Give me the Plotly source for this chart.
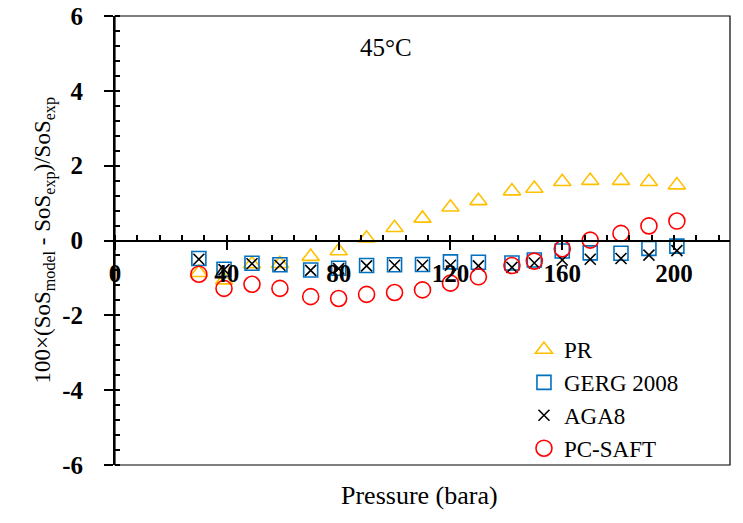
import plotly.graph_objects as go

pressure = [30, 39, 49, 59, 70, 80, 90, 100, 110, 120, 130, 142, 150, 160, 170, 181, 191, 201]
pr = [-0.86, -1.06, -0.63, -0.62, -0.43, -0.28, 0.06, 0.34, 0.59, 0.89, 1.06, 1.32, 1.39, 1.57, 1.60, 1.60, 1.57, 1.48]
gerg = [-0.48, -0.77, -0.61, -0.65, -0.79, -0.74, -0.67, -0.65, -0.64, -0.57, -0.58, -0.60, -0.52, -0.28, -0.33, -0.34, -0.21, -0.15]
aga8 = [-0.50, -0.78, -0.62, -0.66, -0.80, -0.75, -0.68, -0.66, -0.66, -0.66, -0.68, -0.72, -0.60, -0.52, -0.50, -0.48, -0.39, -0.27]
pcsaft = [-0.90, -1.28, -1.17, -1.28, -1.50, -1.55, -1.44, -1.39, -1.32, -1.14, -0.97, -0.67, -0.55, -0.22, 0.01, 0.19, 0.39, 0.52]

x_ticks = [0, 40, 80, 120, 160, 200]
y_ticks = [-6, -4, -2, 0, 2, 4, 6]
y_ticklabels = ["-6", "-4", "-2", "0", "2", "4", "6"]

FONT = "Liberation Serif, Times New Roman, serif"

fig = go.Figure()
fig.add_trace(go.Scatter(x=pressure, y=pr, mode="markers", name="PR",
                         marker=dict(symbol="triangle-up-open", size=15, color="#FFC000",
                                     line=dict(width=1.6, color="#FFC000"))))
fig.add_trace(go.Scatter(x=pressure, y=gerg, mode="markers", name="GERG 2008",
                         marker=dict(symbol="square-open", size=14, color="#0070C0",
                                     line=dict(width=1.6, color="#0070C0"))))
fig.add_trace(go.Scatter(x=pressure, y=aga8, mode="markers", name="AGA8",
                         marker=dict(symbol="x-thin-open", size=11, color="black",
                                     line=dict(width=1.6, color="black"))))
fig.add_trace(go.Scatter(x=pressure, y=pcsaft, mode="markers", name="PC-SAFT",
                         marker=dict(symbol="circle-open", size=16, color="#FF0000",
                                     line=dict(width=1.6, color="#FF0000"))))

fig.update_layout(
    width=743, height=523,
    margin=dict(l=115, r=13, t=16, b=58, autoexpand=False),
    paper_bgcolor="white", plot_bgcolor="white",
    font=dict(family=FONT, color="black"),
    showlegend=True,
    legend=dict(x=0.665, y=0.305, xanchor="left", yanchor="top",
                font=dict(family=FONT, size=23, color="black"),
                bgcolor="rgba(0,0,0,0)", itemwidth=30, tracegroupgap=0),
    xaxis=dict(range=[0, 220], tickvals=x_ticks, anchor="free", position=0.5,
               automargin=False,
               showline=True, linecolor="black", linewidth=2,
               ticks="outside", ticklen=8, tickwidth=1.5, tickcolor="black",
               ticklabelstandoff=2, ticklabeloverflow="allow",
               tickfont=dict(family=FONT, size=25, color="black", weight="bold"),
               showgrid=False, zeroline=False,
               minor=dict(dtick=8, tick0=0, ticks="inside", ticklen=5, tickwidth=1.5,
                          tickcolor="black", showgrid=False)),
    yaxis=dict(range=[-6, 6], tickvals=y_ticks, ticktext=y_ticklabels,
               automargin=False,
               showline=True, linecolor="black", linewidth=2,
               ticks="outside", ticklen=9, tickwidth=1.5, tickcolor="black",
               ticklabelstandoff=16, ticklabeloverflow="allow",
               tickfont=dict(family=FONT, size=25, color="black", weight="bold"),
               showgrid=False, zeroline=False,
               minor=dict(dtick=0.4, tick0=0, ticks="inside", ticklen=5, tickwidth=1.5,
                          tickcolor="black", showgrid=False)),
    shapes=[dict(type="rect", xref="paper", yref="paper", x0=0, x1=1, y0=0, y1=1,
                 line=dict(color="black", width=1.2), layer="below")],
    annotations=[
        dict(text="100×(SoS<sub>model</sub> - SoS<sub>exp</sub>)/SoS<sub>exp</sub>",
             xref="paper", yref="paper", x=-0.114, y=0.5, textangle=-90,
             xanchor="center", yanchor="middle", showarrow=False,
             font=dict(family=FONT, size=23, color="black")),
        dict(text="Pressure (bara)", xref="paper", yref="paper", x=0.495, y=-0.067,
             xanchor="center", yanchor="middle", showarrow=False,
             font=dict(family=FONT, size=26, color="black")),
        dict(text="45°C", xref="x", yref="y", x=97, y=5.15,
             xanchor="center", yanchor="middle", showarrow=False,
             font=dict(family=FONT, size=25, color="black")),
    ],
)

fig.write_html("out.html", config={"displayModeBar": False},
               post_script="document.body.style.margin='0px';")
